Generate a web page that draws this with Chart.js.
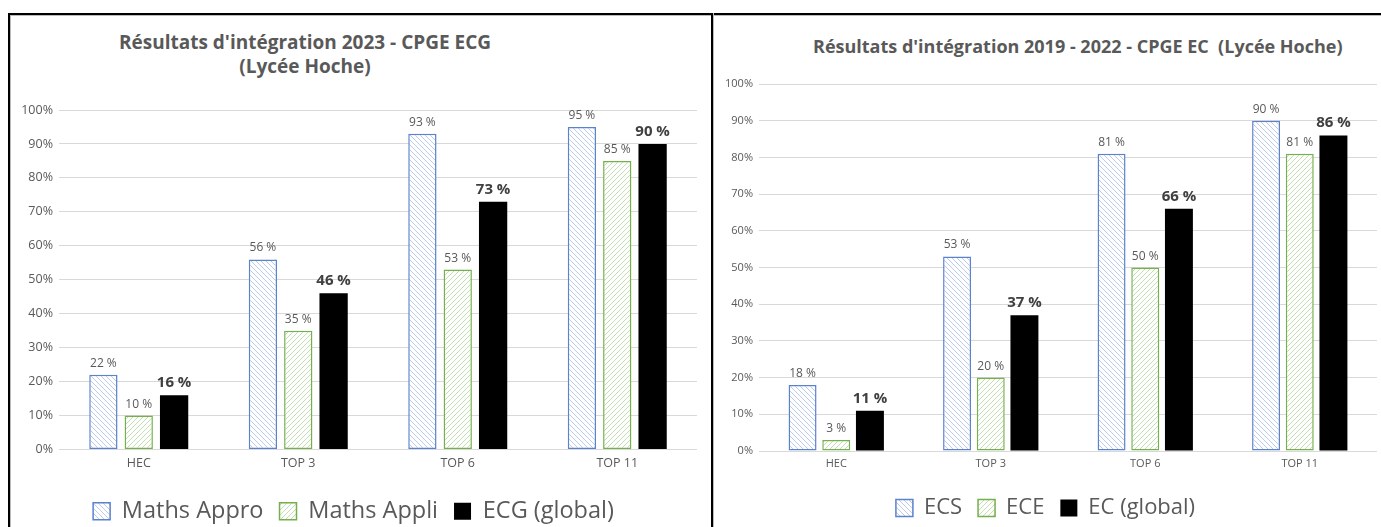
<!DOCTYPE html>
<html>
<head>
<meta charset="utf-8">
<script src="https://cdn.jsdelivr.net/npm/chart.js@4.4.0/dist/chart.umd.min.js"></script>
<style>
  body { margin: 0; background: #fff; width: 1381px; height: 527px; overflow: hidden; position: relative; font-family: "Open Sans", sans-serif; }
  .frame { position: absolute; left: 8px; top: 13px; width: 1400px; height: 600px; border-left: 2px solid #000; border-top: 2px solid #000; box-shadow: inset 1px 1px 0 #bbb; }
  .divider { position: absolute; left: 711px; top: 13px; width: 2px; height: 600px; background: #000; box-shadow: 1px 0 0 #bbb; }
  .box { position: absolute; }
  .title { position: absolute; color: #595959; font-weight: bold; line-height: 24px; text-align: center; white-space: nowrap; }
</style>
</head>
<body>
<div class="frame"></div>
<div class="divider"></div>

<div class="title" style="left:105px; top:30px; width:400px; font-size:19px;">Résultats d'intégration 2023 - CPGE ECG<br>(Lycée Hoche)</div>
<div class="title" style="left:813px; top:34px; width:520px; font-size:18px;">Résultats d'intégration 2019 - 2022 - CPGE EC&nbsp; (Lycée Hoche)</div>

<div class="box" style="left:10px; top:15px; width:700px; height:520px;"><canvas id="left"></canvas></div>
<div class="box" style="left:714px; top:15px; width:667px; height:520px;"><canvas id="right"></canvas></div>

<script>
// categories and values (percent)
const categories = ['HEC', 'TOP 3', 'TOP 6', 'TOP 11'];

const mathsAppro = [22, 56, 93, 95];
const mathsAppli = [10, 35, 53, 85];
const ecgGlobal = [16, 46, 73, 90];

const ecs = [18, 53, 81, 90];
const ece = [3, 20, 50, 81];
const ecGlobal = [11, 37, 66, 86];

const yMax = 100;
const yStep = 10;

// hatch pattern, dir 1 = "\" , dir -1 = "/"
function hatch(color, dir) {
    const s = 5;
    const c = document.createElement('canvas');
    c.width = s;
    c.height = s;
    const g = c.getContext('2d');
    g.fillStyle = '#fff';
    g.fillRect(0, 0, s, s);
    g.strokeStyle = color;
    g.lineWidth = 1;
    g.beginPath();
    if (dir > 0) {
        g.moveTo(0, 0); g.lineTo(s, s);
        g.moveTo(-1, s - 1); g.lineTo(1, s + 1);
        g.moveTo(s - 1, -1); g.lineTo(s + 1, 1);
    } else {
        g.moveTo(0, s); g.lineTo(s, 0);
        g.moveTo(-1, 1); g.lineTo(1, -1);
        g.moveTo(s - 1, s + 1); g.lineTo(s + 1, s - 1);
    }
    g.stroke();
    return g.createPattern(c, 'repeat');
}

const blueHatch = hatch('#bccbeb', 1);
const greenHatch = hatch('#c3deb0', -1);

// value labels above the bars
const barLabels = {
    id: 'barLabels',
    afterDatasetsDraw(chart) {
        const ctx = chart.ctx;
        chart.data.datasets.forEach((ds, i) => {
            const meta = chart.getDatasetMeta(i);
            ctx.save();
            ctx.font = ds.strong ? 'bold 15px "Open Sans"' : '12px "Open Sans"';
            ctx.fillStyle = ds.strong ? '#404040' : '#595959';
            ctx.textAlign = 'center';
            ctx.textBaseline = 'alphabetic';
            meta.data.forEach((bar, j) => {
                ctx.fillText(ds.data[j] + ' %', bar.x, bar.y - 8);
            });
            ctx.restore();
        });
    }
};

function makeChart(id, names, series, cfg) {
    const styles = [
        { backgroundColor: blueHatch, borderColor: '#5b82cf', borderWidth: 1.5 },
        { backgroundColor: greenHatch, borderColor: '#74b04c', borderWidth: 1.5 },
        { backgroundColor: '#000', borderColor: '#000', borderWidth: 0, strong: true }
    ];
    const datasets = series.map((data, i) => Object.assign({
        label: names[i],
        data: data,
        borderSkipped: false,
        categoryPercentage: cfg.cp,
        barPercentage: cfg.bp
    }, styles[i]));

    return new Chart(document.getElementById(id), {
        type: 'bar',
        data: { labels: categories, datasets: datasets },
        options: {
            responsive: true,
            maintainAspectRatio: false,
            animation: false,
            layout: { padding: { top: cfg.top, right: cfg.right, bottom: cfg.bottom, left: 0 } },
            scales: {
                x: {
                    grid: { display: false, drawTicks: false },
                    border: { display: false },
                    ticks: { color: '#595959', font: { family: 'Open Sans', size: cfg.axisFont }, padding: 6 },
                    afterFit(scale) { scale.height = cfg.xh; }
                },
                y: {
                    min: 0,
                    max: yMax,
                    grid: { color: '#d9d9d9', lineWidth: 1, drawTicks: false },
                    border: { display: false },
                    ticks: {
                        stepSize: yStep,
                        color: '#595959',
                        font: { family: 'Open Sans', size: cfg.axisFont },
                        padding: 6,
                        callback: v => v + '%'
                    },
                    afterFit(scale) { scale.width = cfg.yw; }
                }
            },
            plugins: {
                title: { display: false },
                tooltip: { enabled: false },
                legend: {
                    position: 'bottom',
                    labels: {
                        color: '#595959',
                        font: { family: 'Open Sans', size: cfg.legendFont },
                        boxWidth: 17,
                        boxHeight: 17,
                        padding: 16
                    }
                }
            }
        },
        plugins: [barLabels]
    });
}

makeChart('left', ['Maths Appro', 'Maths Appli', 'ECG (global)'], [mathsAppro, mathsAppli, ecgGlobal], {
    cp: 0.665, bp: 0.8, top: 95, right: 13, bottom: 2, xh: 34, yw: 49, axisFont: 12.5, legendFont: 23.5
});

makeChart('right', ['ECS', 'ECE', 'EC (global)'], [ecs, ece, ecGlobal], {
    cp: 0.654, bp: 0.83, top: 69, right: 4, bottom: 6, xh: 30, yw: 45, axisFont: 11, legendFont: 22
});
</script>
</body>
</html>
